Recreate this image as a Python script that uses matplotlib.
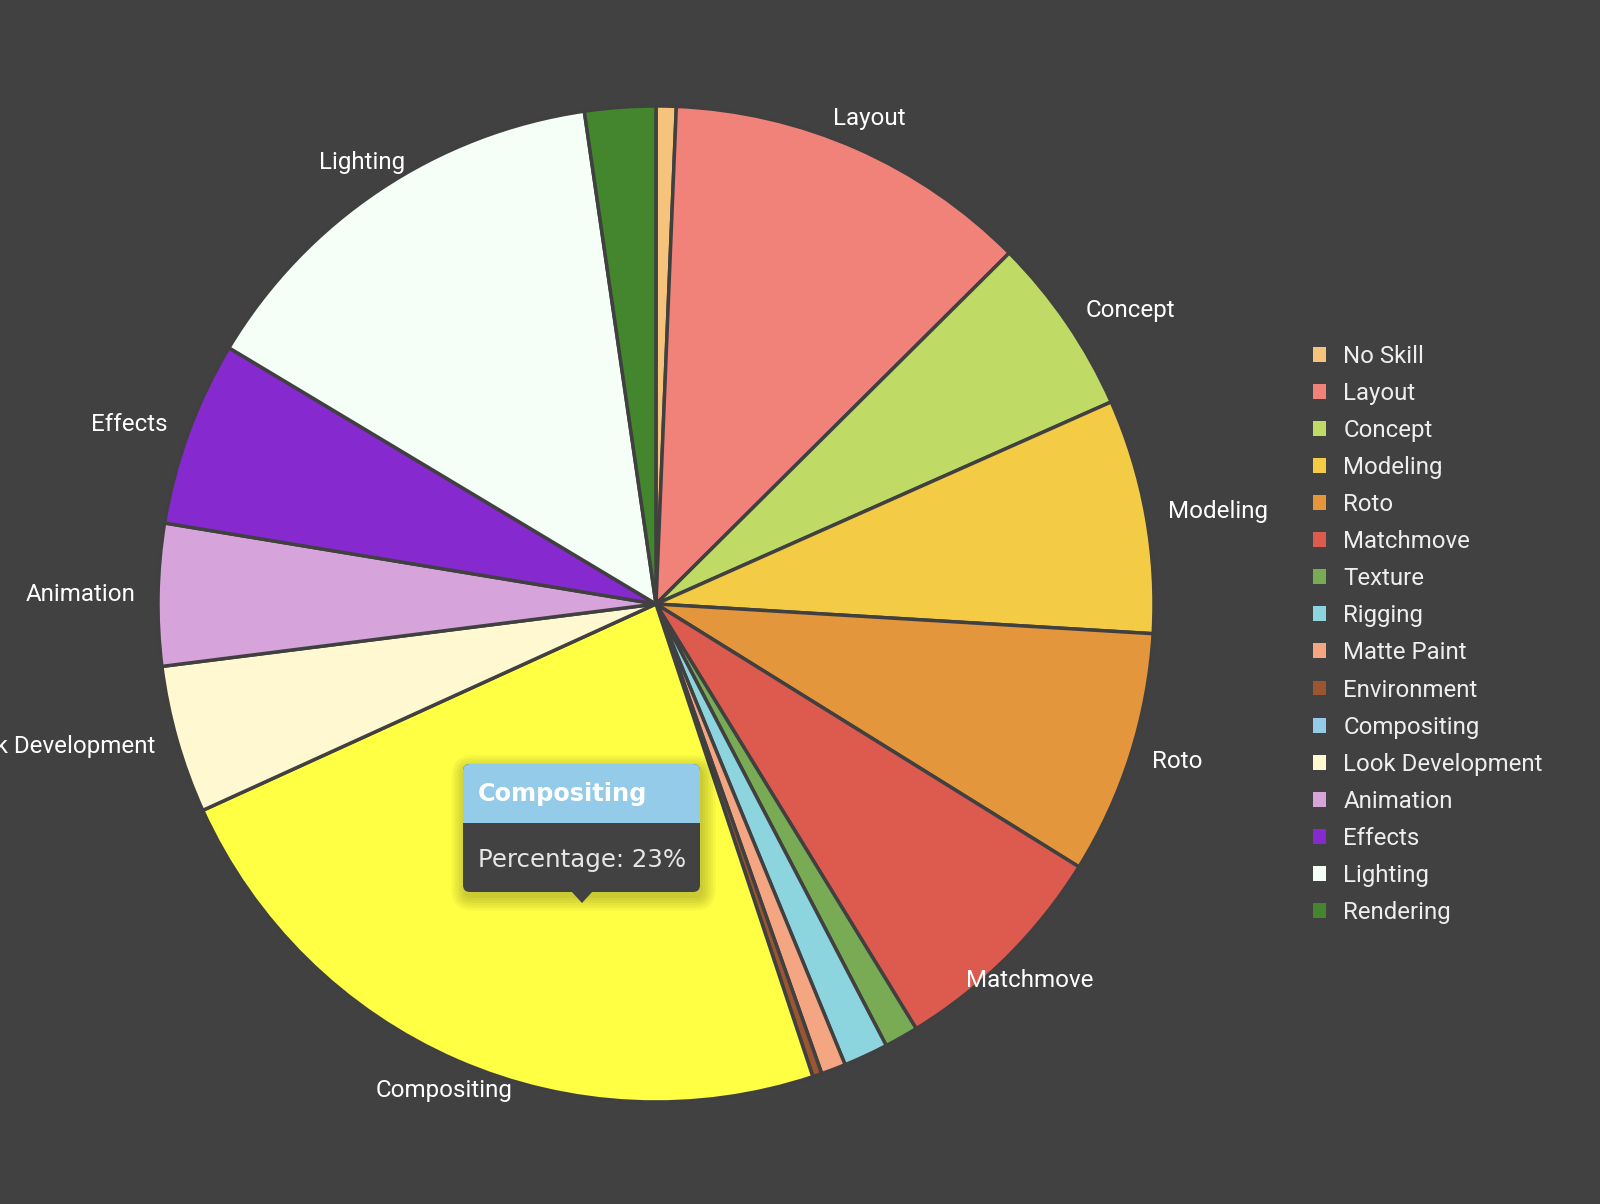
import numpy as np
import matplotlib.pyplot as plt
from matplotlib.patches import Patch, FancyBboxPatch, Rectangle, Polygon

BG = "#414141"

skills = ["No Skill", "Layout", "Concept", "Modeling", "Roto", "Matchmove",
          "Texture", "Rigging", "Matte Paint", "Environment", "Compositing",
          "Look Development", "Animation", "Effects", "Lighting", "Rendering"]
percentages = [0.65, 11.9, 5.8, 7.6, 7.9, 7.4, 1.1, 1.45, 0.8, 0.3, 23.3,
               4.8, 4.6, 6.0, 14.1, 2.3]
legend_colors = ["#f5c37c", "#f0827a", "#c0da66", "#f4cb45", "#e3963c", "#dd5a4f",
                 "#78ab54", "#8cd4de", "#f4a683", "#9b5530", "#95cbe9",
                 "#fff8d0", "#d6a3da", "#862ad0", "#f5fff8", "#43862e"]
# compositing is drawn highlighted (hovered)
slice_colors = list(legend_colors)
slice_colors[10] = "#ffff44"

W, H = 1600, 1204
fig = plt.figure(figsize=(16, 12.04), dpi=100, facecolor=BG)
ax = fig.add_axes([0, 0, 1, 1])
ax.set_facecolor(BG)

cx, cy, R = 656, 600, 498
wedges, _ = ax.pie(percentages, colors=slice_colors, startangle=90, counterclock=False,
                   center=(cx, cy), radius=R, frame=True,
                   wedgeprops=dict(edgecolor="#404040", linewidth=2.5))
ax.set_xlim(0, W)
ax.set_ylim(0, H)
ax.set_aspect("equal")
ax.axis("off")

# outside labels for the bigger slices
for w, name, pct in zip(wedges, skills, percentages):
    if pct < 3:
        continue
    m = np.deg2rad((w.theta1 + w.theta2) / 2)
    c, s = np.cos(m), np.sin(m)
    if abs(c) > 0.75:
        r = 1.045 * R
        ha = "left" if c > 0 else "right"
    else:
        r = 1.065 * R
        ha = "center"
    ax.text(cx + r * c, cy + r * s, name, ha=ha, va="center", color="white",
            fontsize=17.4, family=["Roboto", "DejaVu Sans"])

# legend
handles = [Patch(facecolor=col, edgecolor="none") for col in legend_colors]
leg = ax.legend(handles, skills, loc="upper left", bbox_to_anchor=(1312.5 / W, 1 - 345 / H),
                frameon=False, labelspacing=0.585, handlelength=0.58,
                handleheight=0.58, handletextpad=0.7, borderaxespad=0, borderpad=0,
                prop={"family": "Roboto", "size": 17.3})
for t in leg.get_texts():
    t.set_color("#eeeeee")

# tooltip
def iy(y):
    return H - y

x0, x1 = 463, 700
top, mid, bot = 764, 823, 892
for k in range(6):
    d = 1 + 2.5 * k
    ax.add_patch(FancyBboxPatch((x0 - d + 2, iy(bot) - d - 5), x1 - x0 + 2 * d, bot - top + 2 * d,
                                boxstyle="round,pad=0,rounding_size=%g" % (7 + d),
                                facecolor="black", edgecolor="none", alpha=0.035, zorder=5))
ax.add_patch(FancyBboxPatch((x0, iy(bot)), x1 - x0, bot - top,
                            boxstyle="round,pad=0,rounding_size=7", facecolor="#424242",
                            edgecolor="none", zorder=6))
ax.add_patch(FancyBboxPatch((x0, iy(mid)), x1 - x0, mid - top,
                            boxstyle="round,pad=0,rounding_size=7", facecolor="#93cbe8",
                            edgecolor="none", zorder=7))
ax.add_patch(Rectangle((x0, iy(mid)), x1 - x0, 10, facecolor="#93cbe8", edgecolor="none", zorder=7))
ax.add_patch(Polygon([(571, iy(bot) + 1), (593, iy(bot) + 1), (582, iy(903))],
                     closed=True, facecolor="#424242", edgecolor="none", zorder=6))
ax.text(478, iy((top + mid) / 2), "Compositing", color="white", fontsize=17.3,
        fontweight="bold", family="DejaVu Sans", ha="left", va="center", zorder=8)
ax.text(478, iy((mid + bot) / 2 + 2), "Percentage: 23%", color="#e6e6e6", fontsize=17.6,
        family="DejaVu Sans", ha="left", va="center", zorder=8)

fig.savefig("out.png", dpi=100, facecolor=BG)
